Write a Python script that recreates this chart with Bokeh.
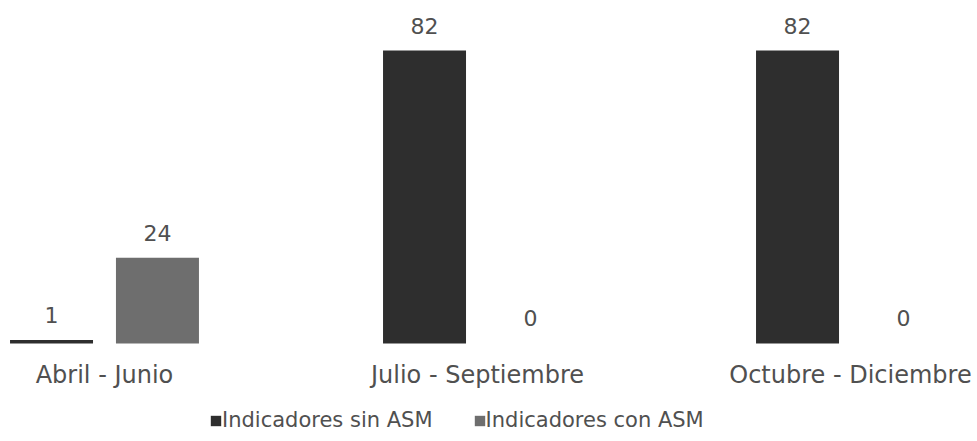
from bokeh.plotting import figure
from bokeh.models import Range1d, FixedTicker, Legend, LegendItem
from bokeh.embed import file_html
from bokeh.resources import INLINE
from bokeh.core.properties import value

categories = ["Abril - Junio", "Julio - Septiembre", "Octubre - Diciembre"]
sin_asm = [1, 82, 82]
con_asm = [24, 0, 0]
series_names = ["Indicadores sin ASM", "Indicadores con ASM"]
colors = ["#2e2e2e", "#6e6e6e"]

FNAME = "DejaVu Sans"
FONT = value(FNAME)
TXT = "#505050"
idx = list(range(len(categories)))
OFF = 0.142
BW = 0.2225

p = figure(width=977, height=441,
           x_range=Range1d(-0.2788, 2.3405), y_range=Range1d(-27.43, 96.0),
           output_backend="svg", toolbar_location=None, min_border=0,
           y_axis_location=None, outline_line_color=None)
p.xgrid.visible = False
p.ygrid.visible = False

x_sin = [i - OFF for i in idx]
x_con = [i + OFF for i in idx]
r1 = p.vbar(x=x_sin, top=sin_asm, width=BW, fill_color=colors[0], line_color=None)
r2 = p.vbar(x=x_con, top=con_asm, width=BW, fill_color=colors[1], line_color=None)

for xs, vals in ((x_sin, sin_asm), (x_con, con_asm)):
    p.text(x=xs, y=vals, text=[str(v) for v in vals], text_align="center",
           text_baseline="middle", y_offset=-25, text_font=FONT,
           text_font_size="22px", text_color=TXT)

ax = p.xaxis[0]
ax.fixed_location = 0
ax.ticker = FixedTicker(ticks=idx)
ax.major_label_overrides = {i: c for i, c in zip(idx, categories)}
ax.axis_line_color = None
ax.major_tick_line_color = None
ax.minor_tick_line_color = None
ax.major_tick_out = 0
ax.major_tick_in = 0
ax.major_label_standoff = 18
ax.major_label_text_font = FNAME
ax.major_label_text_font_size = "24px"
ax.major_label_text_color = TXT

legend = Legend(items=[LegendItem(label=series_names[0], renderers=[r1]),
                       LegendItem(label=series_names[1], renderers=[r2])],
                orientation="horizontal", location=(209, 9))
legend.border_line_color = None
legend.background_fill_alpha = 0
legend.glyph_width = 13
legend.glyph_height = 13
legend.label_standoff = 0
legend.spacing = 40
legend.label_text_font = FNAME
legend.label_text_font_size = "21px"
legend.label_text_color = TXT
legend.margin = 0
legend.padding = 0
p.add_layout(legend)

open("out.html", "w").write(file_html(p, INLINE))
